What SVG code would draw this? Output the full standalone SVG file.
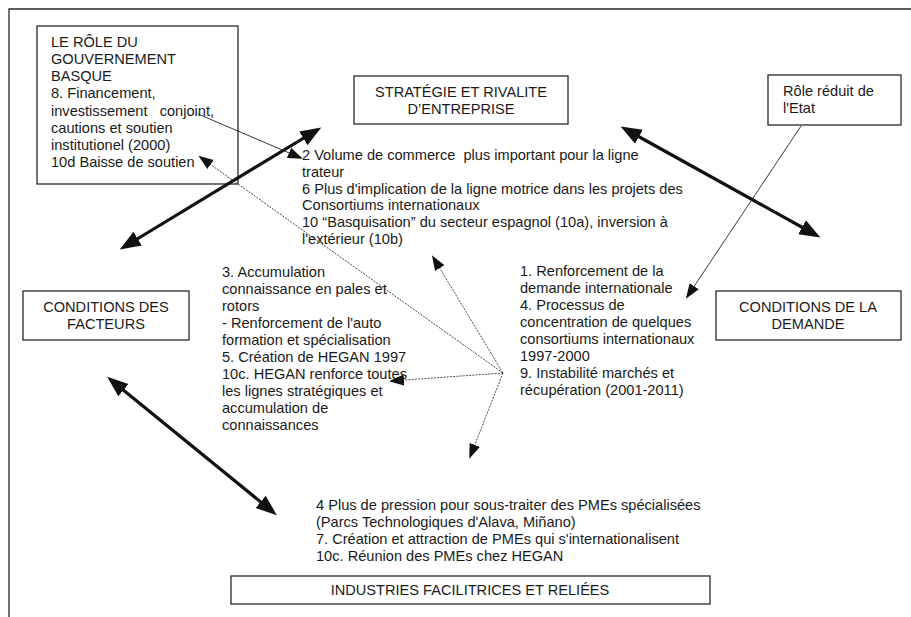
<svg xmlns="http://www.w3.org/2000/svg" width="911" height="617" viewBox="0 0 911 617">
  <style>
    text { font-family: "Liberation Sans", Arial, sans-serif; font-size: 14.6px; fill: #1a1a1a; white-space: pre; }
    .mid { text-anchor: middle; }
    .box { fill: #ffffff; stroke: #2a2a2a; stroke-width: 1.3; }
    .frame { fill: none; stroke: #2a2a2a; stroke-width: 1.3; }
    .thick { fill: none; stroke: #111; stroke-width: 3.2; marker-start: url(#bigHead); marker-end: url(#bigHead); }
    .thin { fill: none; stroke: #222; stroke-width: 0.9; marker-end: url(#smallHead); }
    .dot { fill: none; stroke: #333; stroke-width: 0.9; stroke-dasharray: 2 1.2; marker-end: url(#smallHead); }
  </style>
  <defs>
    <marker id="bigHead" markerUnits="userSpaceOnUse" markerWidth="22" markerHeight="18" refX="16" refY="8" orient="auto-start-reverse" viewBox="0 0 22 18">
      <path d="M0,0 L21,8 L0,16 z" fill="#111"/>
    </marker>
    <marker id="smallHead" markerUnits="userSpaceOnUse" markerWidth="16" markerHeight="12" refX="13" refY="5.5" orient="auto" viewBox="0 0 16 12">
      <path d="M0,0 L15,5.5 L0,11 z" fill="#111"/>
    </marker>
  </defs>

  <!-- outer frame: top and left edges only -->
  <path class="frame" d="M9,617 L9,9 L911,9"/>

  <!-- free text blocks -->
  <g id="text-strategie">
    <text x="302" y="160">2 Volume de commerce  plus important pour la ligne</text>
    <text x="302" y="177">trateur</text>
    <text x="302" y="194">6 Plus d'implication de la ligne motrice dans les projets des</text>
    <text x="302" y="210">Consortiums internationaux</text>
    <text x="302" y="227">10 “Basquisation” du secteur espagnol (10a), inversion à</text>
    <text x="302" y="244">l'extérieur (10b)</text>
  </g>
  <g id="text-facteurs">
    <text x="222" y="277">3. Accumulation</text>
    <text x="222" y="294">connaissance en pales et</text>
    <text x="222" y="311">rotors</text>
    <text x="222" y="328">- Renforcement de l'auto</text>
    <text x="222" y="345">formation et spécialisation</text>
    <text x="222" y="362">5. Création de HEGAN 1997</text>
    <text x="222" y="379">10c. HEGAN renforce toutes</text>
    <text x="222" y="396">les lignes stratégiques et</text>
    <text x="222" y="413">accumulation de</text>
    <text x="222" y="430">connaissances</text>
  </g>
  <g id="text-demande">
    <text x="520" y="276">1. Renforcement de la</text>
    <text x="520" y="293">demande internationale</text>
    <text x="520" y="310">4. Processus de</text>
    <text x="520" y="327">concentration de quelques</text>
    <text x="520" y="344">consortiums internationaux</text>
    <text x="520" y="361">1997-2000</text>
    <text x="520" y="378">9. Instabilité marchés et</text>
    <text x="520" y="395">récupération (2001-2011)</text>
  </g>
  <g id="text-industries">
    <text x="316" y="510">4 Plus de pression pour sous-traiter des PMEs spécialisées</text>
    <text x="316" y="527">(Parcs Technologiques d'Alava, Miñano)</text>
    <text x="316" y="544">7. Création et attraction de PMEs qui s'internationalisent</text>
    <text x="316" y="561">10c. Réunion des PMEs chez HEGAN</text>
  </g>

  <!-- boxed nodes -->
  <g id="gouvernement-basque">
    <rect class="box" x="37" y="26" width="201" height="158"/>
    <text x="51" y="47">LE RÔLE DU</text>
    <text x="51" y="64">GOUVERNEMENT</text>
    <text x="51" y="81">BASQUE</text>
    <text x="51" y="98">8. Financement,</text>
    <text x="51" y="116">investissement   conjoint,</text>
    <text x="51" y="133">cautions et soutien</text>
    <text x="51" y="150">institutionel (2000)</text>
    <text x="51" y="167">10d Baisse de soutien</text>
  </g>
  <g id="strategie">
    <rect class="box" x="354" y="76" width="214" height="48"/>
    <text class="mid" x="461" y="97">STRATÉGIE ET RIVALITE</text>
    <text class="mid" x="461" y="114">D’ENTREPRISE</text>
  </g>
  <g id="role-etat">
    <rect class="box" x="768" y="75" width="133" height="50"/>
    <text x="783" y="96">Rôle réduit de</text>
    <text x="783" y="113">l'Etat</text>
  </g>
  <g id="conditions-facteurs">
    <rect class="box" x="23" y="291" width="166" height="49"/>
    <text class="mid" x="106" y="312">CONDITIONS DES</text>
    <text class="mid" x="106" y="329">FACTEURS</text>
  </g>
  <g id="conditions-demande">
    <rect class="box" x="716" y="291" width="185" height="49"/>
    <text class="mid" x="808" y="312">CONDITIONS DE LA</text>
    <text class="mid" x="808" y="329">DEMANDE</text>
  </g>
  <g id="industries">
    <rect class="box" x="231" y="576" width="479" height="28"/>
    <text class="mid" x="470" y="595">INDUSTRIES FACILITRICES ET RELIÉES</text>
  </g>

  <!-- connectors -->
  <g id="connectors">
    <line class="thick" x1="124" y1="247" x2="317" y2="130"/>
    <line class="thick" x1="625" y1="129" x2="816" y2="235"/>
    <line class="thick" x1="111" y1="380" x2="273" y2="512"/>
    <line class="thin" x1="198" y1="114" x2="301" y2="158"/>
    <line class="thin" x1="801" y1="126" x2="687" y2="297"/>
    <line class="dot" x1="503" y1="373" x2="200" y2="157"/>
    <line class="dot" x1="503" y1="373" x2="433" y2="257"/>
    <line class="dot" x1="503" y1="373" x2="391" y2="381"/>
    <line class="dot" x1="503" y1="373" x2="470" y2="457"/>
  </g>
</svg>
